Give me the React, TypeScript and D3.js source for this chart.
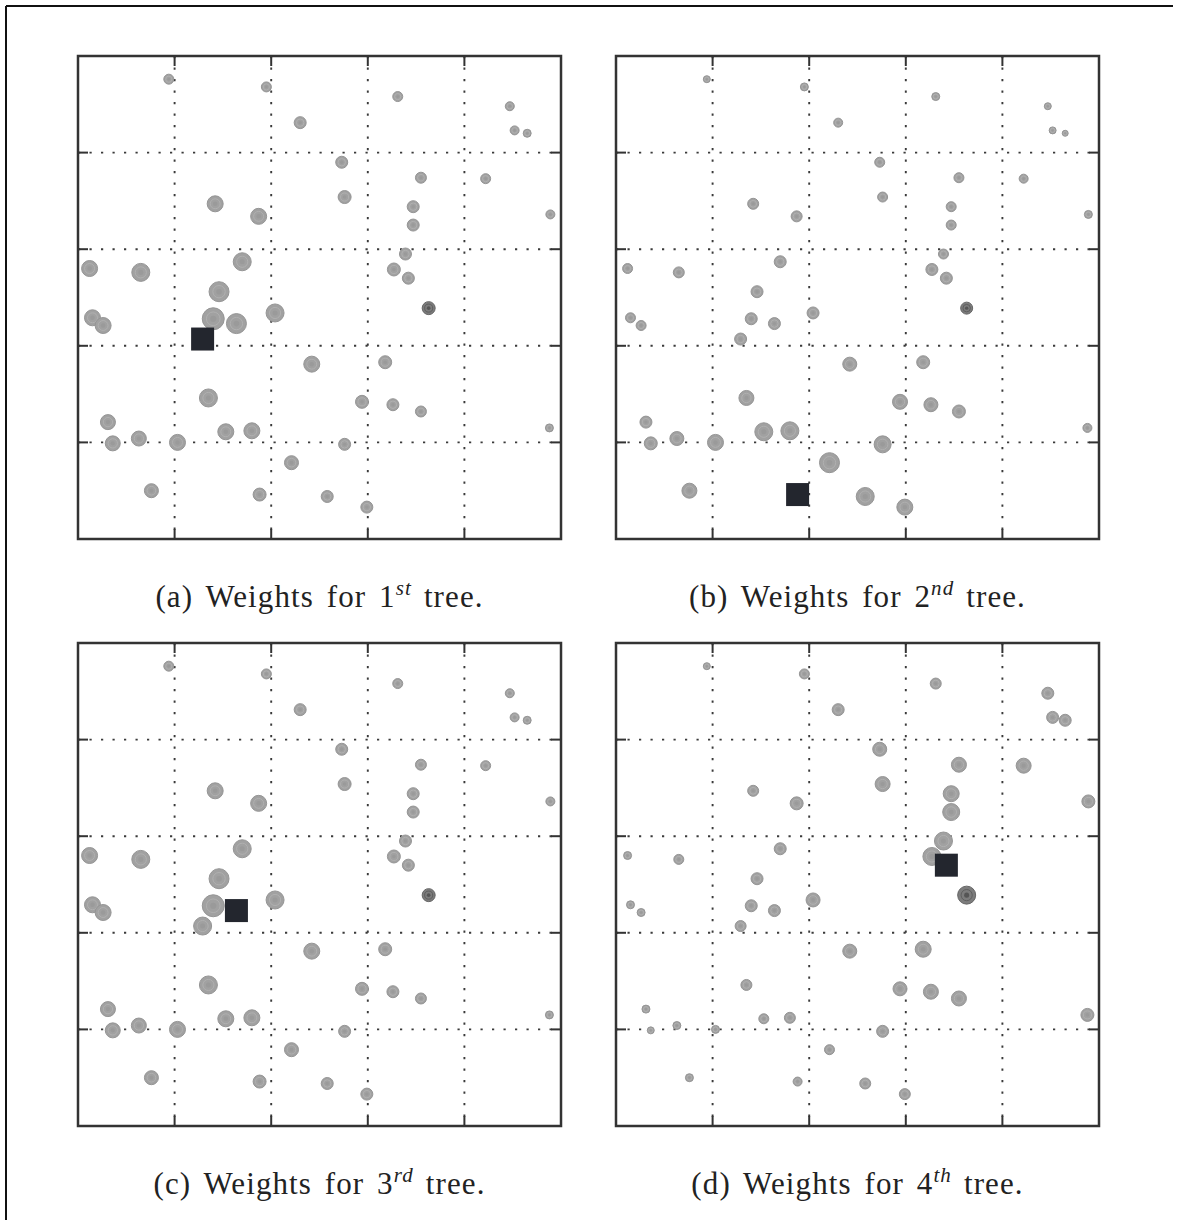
import React from "react";
import * as d3 from "d3";

// Point locations (grid units, 0..5) shared by all four panels
const pointX = [0.94, 1.95, 3.31, 2.30, 4.47, 4.52, 4.65, 2.73, 3.55, 4.22, 1.42, 2.76, 1.87, 3.47, 3.47, 4.89, 0.12, 0.65, 1.70, 3.39, 3.27, 3.42, 1.46, 0.15, 0.26, 1.40, 1.64, 2.04, 3.63, 1.29, 2.42, 3.18, 1.35, 2.94, 3.26, 3.55, 0.31, 0.36, 0.63, 1.03, 1.53, 1.80, 2.76, 4.88, 2.21, 0.76, 1.88, 2.58, 2.99];
const pointY = [4.76, 4.68, 4.58, 4.31, 4.48, 4.23, 4.20, 3.90, 3.74, 3.73, 3.47, 3.54, 3.34, 3.44, 3.25, 3.36, 2.80, 2.76, 2.87, 2.95, 2.79, 2.70, 2.56, 2.29, 2.21, 2.28, 2.23, 2.34, 2.39, 2.07, 1.81, 1.83, 1.46, 1.42, 1.39, 1.32, 1.21, 0.99, 1.04, 1.00, 1.11, 1.12, 0.98, 1.15, 0.79, 0.50, 0.46, 0.44, 0.33];
// index of a doubly-weighted (darker) point
const darkPoints = [28];

// Weights per tree (one value per point)
const weights1 = [5, 5, 5, 6, 4.5, 4.5, 4, 6, 5.5, 5, 8, 6.5, 8, 6, 6, 4.5, 8, 9, 9, 6, 6.5, 6, 10, 8, 8, 11, 10, 9, 6.5, 10, 8, 6.5, 9, 6.5, 6, 5.5, 7.5, 7.5, 7.5, 8, 8, 8, 6, 4, 7, 7, 6.5, 6, 6];
const weights2 = [3.5, 4, 4, 4.5, 3.5, 3.5, 3, 5, 5, 4.5, 5.5, 5, 5.5, 5, 5, 4, 5, 5.5, 6, 5, 6, 6, 6, 5, 5, 6, 6, 6, 6, 6, 7, 6.5, 7.5, 7.5, 7, 6.5, 6, 6.5, 7, 8, 9, 9, 8.5, 4.5, 10, 7.5, 8, 9, 8];
const weights3 = [5, 5, 5, 6, 4.5, 4.5, 4, 6, 5.5, 5, 8, 6.5, 8, 6, 6, 4.5, 8, 9, 9, 6, 6.5, 6, 10, 8, 8, 11, 10, 9, 6.5, 9, 8, 6.5, 9, 6.5, 6, 5.5, 7.5, 7.5, 7.5, 8, 8, 8, 6, 4, 7, 7, 6.5, 6, 6];
const weights4 = [3.5, 5, 5.5, 6, 6, 6, 6, 7, 7.5, 7.5, 5.5, 7.5, 6.5, 8, 8.5, 6.5, 4, 5, 6, 9, 9, 9, 6, 4, 4, 6, 6, 7, 9, 5.5, 7, 8, 5.5, 7, 7.5, 7.5, 4, 3.5, 4, 4, 5, 5.5, 6, 6.5, 5, 4, 4.5, 5.5, 5.5];
const weightSets = [weights1, weights2, weights3, weights4];
// test point (square) for each tree: index into the point arrays
const testIndex = [29, 46, 26, 21];

const panelLetters = ["a", "b", "c", "d"];
const ordinals = ["1", "2", "3", "4"];
const ordinalSuffix = ["st", "nd", "rd", "th"];
const gridTicks = [1, 2, 3, 4];

const W = 1179;
const H = 1220;
const SIZE = 483;
const panelX = [78, 616];
const panelY = [56, 643];
const FONT = "Liberation Serif";

function Panel({ idx }: { idx: number }) {
  const x0 = panelX[idx % 2];
  const y0 = panelY[Math.floor(idx / 2)];
  const x = d3.scaleLinear().domain([0, 5]).range([0, SIZE]);
  const y = d3.scaleLinear().domain([0, 5]).range([SIZE, 0]);
  const r = d3.scaleLinear().domain([0, 12]).range([0, 12]);
  const w = weightSets[idx];
  const sq = testIndex[idx];
  const side = 23;
  const frame = "#333";
  const gridCol = "#3a3a3a";
  return (
    <g transform={`translate(${x0},${y0})`}>
      {gridTicks.map((t) => (
        <g key={"g" + t}>
          <line x1={x(t)} x2={x(t)} y1={0} y2={SIZE} stroke={gridCol} strokeWidth={1.9} strokeDasharray="2.2 9.3" />
          <line y1={y(t)} y2={y(t)} x1={0} x2={SIZE} stroke={gridCol} strokeWidth={1.9} strokeDasharray="2.2 9.3" />
          <line x1={x(t)} x2={x(t)} y1={0} y2={10} stroke={frame} strokeWidth={2} />
          <line x1={x(t)} x2={x(t)} y1={SIZE} y2={SIZE - 10} stroke={frame} strokeWidth={2} />
          <line y1={y(t)} y2={y(t)} x1={0} x2={10} stroke={frame} strokeWidth={2} />
          <line y1={y(t)} y2={y(t)} x1={SIZE} x2={SIZE - 10} stroke={frame} strokeWidth={2} />
        </g>
      ))}
      {pointX.map((px, i) => {
        const rad = r(w[i]);
        const dark = darkPoints.includes(i);
        return (
          <g key={"p" + i} transform={`translate(${x(px)},${y(pointY[i])})`}>
            <circle r={rad} fill={dark ? "#7c7c7c" : "#a1a1a1"} stroke={dark ? "#666" : "#959595"} strokeWidth={1} />
            <circle r={rad * 0.62} fill="none" stroke={dark ? "#5e5e5e" : "#b0b0b0"} strokeWidth={1} />
            <circle r={rad * 0.28} fill={dark ? "#555" : "#9a9a9a"} />
          </g>
        );
      })}
      <rect
        x={x(pointX[sq]) - side / 2}
        y={y(pointY[sq]) - side / 2}
        width={side}
        height={side}
        fill="#23262e"
      />
      <rect x={0} y={0} width={SIZE} height={SIZE} fill="none" stroke={frame} strokeWidth={2.5} />
      <text
        x={SIZE / 2}
        y={SIZE + 68}
        textAnchor="middle"
        fontFamily={FONT}
        fontSize={31}
        fill="#222"
        letterSpacing={1.1}
        wordSpacing={4}
      >
        <tspan>{`(${panelLetters[idx]}) Weights for ${ordinals[idx]}`}</tspan>
        <tspan dy={-12} fontSize={21} fontStyle="italic">{ordinalSuffix[idx]}</tspan>
        <tspan dy={12} dx={12}>{"tree."}</tspan>
      </text>
    </g>
  );
}

export default function App() {
  return (
    <svg width={W} height={H} style={{ position: "absolute", left: 0, top: 0, background: "#fff" }}>
      <rect x={0} y={0} width={W} height={H} fill="#fff" />
      <line x1={6} x2={1173} y1={6} y2={6} stroke="#111" strokeWidth={2} />
      <line x1={6} x2={6} y1={6} y2={H} stroke="#111" strokeWidth={2} />
      {[0, 1, 2, 3].map((i) => (
        <Panel key={i} idx={i} />
      ))}
    </svg>
  );
}
